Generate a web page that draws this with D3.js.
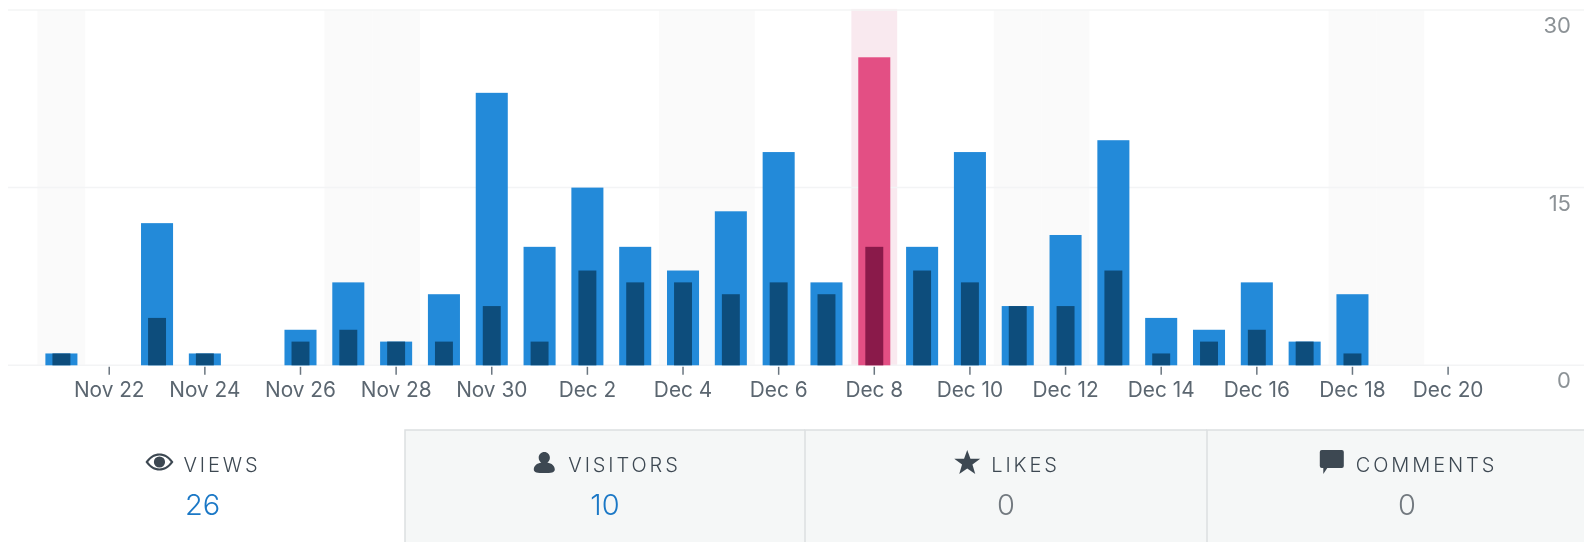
<!DOCTYPE html>
<html>
<head>
<meta charset="utf-8">
<script src="https://cdn.jsdelivr.net/npm/d3@7"></script>
<style>
  html, body { margin: 0; padding: 0; background: #fff; overflow: hidden; }
  svg { display: block; font-family: Inter, Roboto, sans-serif; filter: blur(0.4px); }
</style>
</head>
<body>
<div id="chart"></div>
<script>
const days = ["Nov 21","Nov 22","Nov 23","Nov 24","Nov 25","Nov 26","Nov 27","Nov 28","Nov 29","Nov 30",
  "Dec 1","Dec 2","Dec 3","Dec 4","Dec 5","Dec 6","Dec 7","Dec 8","Dec 9","Dec 10",
  "Dec 11","Dec 12","Dec 13","Dec 14","Dec 15","Dec 16","Dec 17","Dec 18","Dec 19","Dec 20"];
const views = [1,0,12,1,0,3,7,2,6,23,10,15,10,8,13,18,7,26,10,18,5,11,19,4,3,7,2,6,0,0];
const visitors = [1,0,4,1,0,2,3,2,2,5,2,8,7,7,6,7,6,10,8,7,5,5,8,1,2,3,2,1,0,0];
const weekendDays = ["Nov 21","Nov 27","Nov 28","Dec 4","Dec 5","Dec 11","Dec 12","Dec 18","Dec 19"];
const tickLabels = ["Nov 22","Nov 24","Nov 26","Nov 28","Nov 30","Dec 2","Dec 4","Dec 6","Dec 8","Dec 10","Dec 12","Dec 14","Dec 16","Dec 18","Dec 20"];
const yTicks = [0, 15, 30];
const selectedDay = "Dec 8";

const tabNames = ["VIEWS", "VISITORS", "LIKES", "COMMENTS"];
const tabValues = [26, 10, 0, 0];

const width = 1584;
const height = 542;

const svg = d3.select("#chart").append("svg")
    .attr("width", width)
    .attr("height", height);

const x = d3.scaleBand()
    .domain(days)
    .range([37.5, 1472])
    .paddingInner(0.33)
    .paddingOuter(0.165);

const y = d3.scaleLinear()
    .domain([0, 30])
    .range([365.3, 9.9]);

const gap = x.step() - x.bandwidth();

// weekend shading
svg.append("g").selectAll("rect")
    .data(weekendDays)
    .join("rect")
    .attr("x", d => x(d) - gap / 2)
    .attr("y", y(30))
    .attr("width", x.step())
    .attr("height", y(0) - y(30))
    .attr("fill", "#fafafa");

// selected day band
svg.append("rect")
    .attr("x", x(selectedDay) - gap / 2 + 1)
    .attr("y", y(30) - 1)
    .attr("width", x.step() - 2)
    .attr("height", y(0) - y(30) + 1)
    .attr("fill", "#f9e9ef");

// grid lines
svg.append("g").selectAll("line")
    .data(yTicks)
    .join("line")
    .attr("x1", 8)
    .attr("x2", width)
    .attr("y1", d => y(d))
    .attr("y2", d => y(d))
    .attr("stroke", "#f3f4f5")
    .attr("stroke-width", 1.5);

// views bars
svg.append("g").selectAll("rect")
    .data(days)
    .join("rect")
    .attr("x", d => x(d))
    .attr("y", (d, i) => y(views[i]))
    .attr("width", x.bandwidth())
    .attr("height", (d, i) => y(0) - y(views[i]))
    .attr("fill", d => d === selectedDay ? "#e34f84" : "#238ad9");

// visitors bars, narrower and on top
const innerWidth = x.bandwidth() * 0.56;
svg.append("g").selectAll("rect")
    .data(days)
    .join("rect")
    .attr("x", d => x(d) + (x.bandwidth() - innerWidth) / 2)
    .attr("y", (d, i) => y(visitors[i]))
    .attr("width", innerWidth)
    .attr("height", (d, i) => y(0) - y(visitors[i]))
    .attr("fill", d => d === selectedDay ? "#8a1a4a" : "#0d4d7c");

// x axis
const xAxis = svg.append("g")
    .attr("transform", `translate(0,${y(0) + 1.5})`)
    .call(d3.axisBottom(x).tickValues(tickLabels).tickSize(8).tickPadding(7));
xAxis.select(".domain").remove();
xAxis.selectAll("line").attr("stroke", "#6b7680").attr("stroke-width", 1.5);
xAxis.selectAll("text")
    .attr("fill", "#5b6670")
    .style("font-size", "20.8px")
    .style("font-family", "Inter, Roboto, sans-serif");

// y axis, labels sit under their grid line
const yAxis = svg.append("g")
    .attr("transform", "translate(1571,0)")
    .call(d3.axisLeft(y).tickValues(yTicks).tickSize(0).tickPadding(0));
yAxis.select(".domain").remove();
yAxis.selectAll("text")
    .attr("dy", "22.5px")
    .attr("fill", "#8c9296")
    .style("font-size", "22px")
    .style("font-family", "Inter, Roboto, sans-serif");

// tabs under the chart, the last one runs past the window edge
const tabEdges = [0, 405, 805, 1207, 1607];
const tabIcons = [
  "M-14-1C-10-7-5-9.5 0-9.5S10-7 14-1C10 5 5 7.5 0 7.5S-10 5-14-1ZM-11.3-1C-8-5.5-4-7.5 0-7.5S8-5.5 11.3-1C8 3.5 4 5.5 0 5.5S-8 3.5-11.3-1ZM0-6.6A5.6 5.6 0 1 0 0 4.6 5.6 5.6 0 1 0 0-6.6Z",
  "M0-11C3.2-11 5.6-8.5 5.6-5.3 5.6-3.2 4.6-1.4 3-.4 7.5.4 10.5 3 10.5 6.5 10.5 9.5 7 10 0 10S-10.5 9.5-10.5 6.5C-10.5 3-7.5.4-3-.4-4.6-1.4-5.6-3.2-5.6-5.3-5.6-8.5-3.2-11 0-11Z",
  "M0-13L3.2-4.2 13-4.2 5.2 1.6 8 11 0 5.4-8 11-5.2 1.6-13-4.2-3.2-4.2Z",
  "M-10-13H10A2 2 0 0 1 12-11V3A2 2 0 0 1 10 5H-4.5L-8.5 11V5H-10A2 2 0 0 1-12 3V-11A2 2 0 0 1-10-13Z"
];
const tabs = svg.append("g");

tabNames.forEach((name, i) => {
  const left = tabEdges[i];
  const right = tabEdges[i + 1];
  const cx = (left + right) / 2;
  const tab = tabs.append("g");

  if (i > 0) {
    tab.append("rect")
        .attr("x", left)
        .attr("y", 430)
        .attr("width", right - left)
        .attr("height", height - 430)
        .attr("fill", "#f5f7f7");
    tab.append("path")
        .attr("d", `M${left} ${height}V430H${right}`)
        .attr("fill", "none")
        .attr("stroke", "#dcdfe1")
        .attr("stroke-width", 1.5);
  }

  const label = tab.append("text")
      .attr("x", cx + 19.5)
      .attr("y", 472)
      .attr("text-anchor", "middle")
      .attr("fill", "#3d4852")
      .style("font-size", "20px")
      .style("font-weight", 300)
      .style("letter-spacing", "2.9px")
      .text(name);

  const labelBox = label.node().getBBox();
  tab.append("path")
      .attr("d", tabIcons[i])
      .attr("transform", `translate(${labelBox.x - 24},463)`)
      .attr("fill", "#3d4852")
      .attr("fill-rule", "evenodd");

  tab.append("text")
      .attr("x", cx)
      .attr("y", 515)
      .attr("text-anchor", "middle")
      .attr("fill", tabValues[i] > 0 ? "#1b78c6" : "#72797f")
      .style("font-size", "29px")
      .style("font-weight", 300)
      .text(tabValues[i]);
});
</script>
</body>
</html>
